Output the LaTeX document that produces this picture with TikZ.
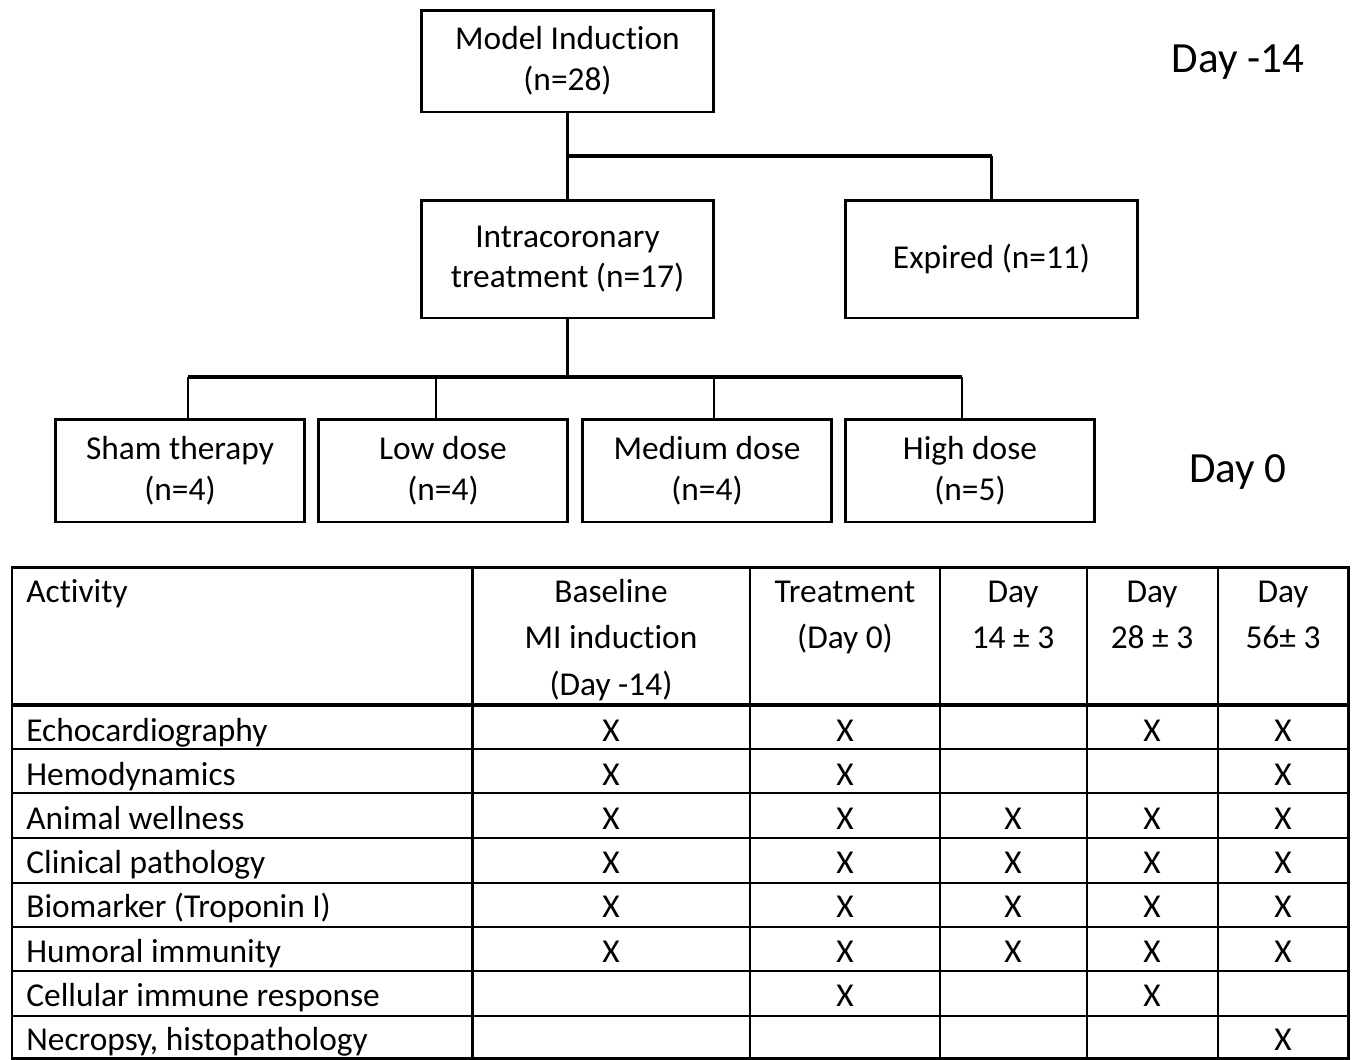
\documentclass[tikz,border=0pt]{standalone}
\usepackage{fontspec}
\setmainfont{Carlito}[Ligatures=NoCommon]
\usetikzlibrary{positioning}

\begin{document}
\begin{tikzpicture}[x=0.02cm, y=-0.02cm, font=\fontsize{19}{23.2}\selectfont]
  \tikzset{
    flowbox/.style={draw, line width=1.7pt, align=center, inner sep=0pt},
    link/.style={line width=1.4pt},
    bus/.style={line width=2.4pt},
    daylabel/.style={font=\fontsize{24.5}{29}\selectfont},
    cell/.style={anchor=base, inner sep=0pt},
    thinrule/.style={line width=1.1pt},
    thickrule/.style={line width=1.7pt}
  }
  \useasboundingbox (0,0) rectangle (1358,1059);

  % flow chart
  \node[flowbox, minimum width=5.86cm, minimum height=2.04cm] (mi) at (567.5,61) {Model Induction\\(n=28)};
  \node[flowbox, minimum width=5.86cm, minimum height=2.36cm] (ic) at (567.5,259) {Intracoronary\\treatment (n=17)};
  \node[flowbox, minimum width=5.86cm, minimum height=2.36cm] (exp) at (991.5,259) {Expired (n=11)};

  \node[flowbox, minimum width=5cm, minimum height=2.06cm] (sham) at (180,470.5) {Sham therapy\\(n=4)};
  \node[flowbox, minimum width=5cm, minimum height=2.06cm] (low) at (443,470.5) {Low dose\\(n=4)};
  \node[flowbox, minimum width=5cm, minimum height=2.06cm] (med) at (707,470.5) {Medium dose\\(n=4)};
  \node[flowbox, minimum width=5cm, minimum height=2.06cm] (high) at (970,470.5) {High dose\\(n=5)};

  \node[daylabel] (dayA) at (1238,62) {Day -14};
  \node[daylabel] (dayB) at (1238,472) {Day 0};

  % connectors
  \coordinate (j1) at (567.5,156);
  \coordinate (j2) at (567.5,377);
  \draw[link] (mi.south) -- (ic.north);
  \draw[bus] (j1) -- (j1 -| exp.north);
  \draw[link] (j1 -| exp.north) -- (exp.north);
  \draw[link] (ic.south) -- (j2);
  \coordinate (d1) at (188,377);
  \coordinate (d2) at (436,377);
  \coordinate (d3) at (714,377);
  \coordinate (d4) at (962,377);
  \draw[bus] (d1) -- (d4);
  \draw[link] (d1) -- (d1 |- sham.north);
  \draw[link] (d2) -- (d2 |- low.north);
  \draw[link] (d3) -- (d3 |- med.north);
  \draw[link] (d4) -- (d4 |- high.north);

  % table
  \foreach \y in {749,793,838,883,927,971,1016}
    \draw[thinrule] (12,\y) -- (1348,\y);
  \foreach \x in {750,940,1087,1218}
    \draw[thinrule] (\x,567) -- (\x,1058);
  \draw[thickrule] (472,567) -- (472,1058);
  \draw[line width=2.3pt] (12,705) -- (1348,705);
  \draw[thickrule] (12,567) rectangle (1348,1058);

  \node[cell, anchor=base west] (hAct) at (26,602) {Activity};
  \node[cell] (hBase1) at (611,602) {Baseline};
  \node[cell] (hBase2) at (611,648) {MI induction};
  \node[cell] (hBase3) at (611,695) {(Day -14)};
  \foreach \x/\a/\b in {845/Treatment/(Day 0), 1013/Day/14 ± 3, 1152/Day/28 ± 3, 1283/Day/56± 3} {
    \node[cell] (h1-\x) at (\x,602) {\a};
    \node[cell] (h2-\x) at (\x,648) {\b};
  }

  \foreach \name [count=\i from 0] in {Echocardiography, Hemodynamics, Animal wellness, Clinical pathology, Biomarker (Troponin I), Humoral immunity, Cellular immune response, {Necropsy, histopathology}}
    \node[cell, anchor=base west] (act-\i) at (26,{741+44.2*\i}) {\name};

  \foreach \cx/\rows in {611/{0,1,2,3,4,5}, 845/{0,1,2,3,4,5,6}, 1013/{2,3,4,5}, 1152/{0,2,3,4,5,6}, 1283/{0,1,2,3,4,5,7}}
    \foreach \r in \rows
      \node[cell] (x-\r-\cx) at (\cx,{741+44.2*\r}) {X};
\end{tikzpicture}
\end{document}
